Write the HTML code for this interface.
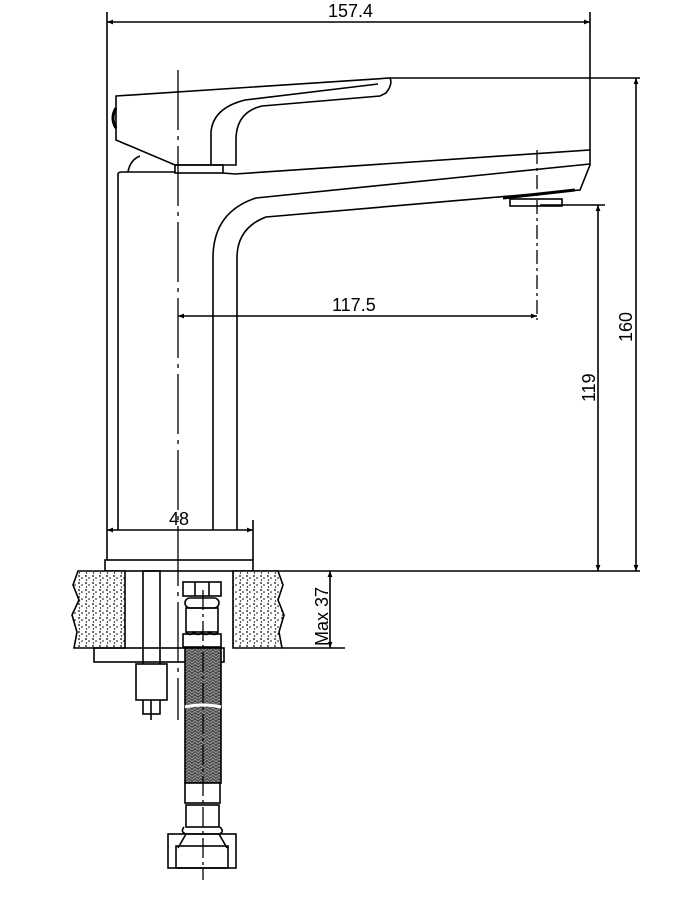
<!DOCTYPE html>
<html><head><meta charset="utf-8"><style>
html,body{margin:0;padding:0;background:#fff}
svg{display:block}
text{font-family:"Liberation Sans","DejaVu Sans",sans-serif;font-size:18px;fill:#000}
</style></head><body>
<svg width="700" height="900" viewBox="0 0 700 900" xmlns="http://www.w3.org/2000/svg">
<defs>
<pattern id="dots" width="7" height="7" patternUnits="userSpaceOnUse">
<rect width="7" height="7" fill="#fff"/>
<circle cx="2" cy="2" r="0.9" fill="#000"/><circle cx="5" cy="4" r="0.8" fill="#000"/><circle cx="2.5" cy="6" r="0.7" fill="#000"/>
</pattern>
<pattern id="braid" width="6" height="6" patternUnits="userSpaceOnUse">
<rect width="6" height="6" fill="#444"/>
<path d="M0 3 L3 0 L6 3 M0 6 L3 3 L6 6" stroke="#999" stroke-width="1" fill="none"/>
</pattern>
<marker id="a" viewBox="0 0 10 10" refX="10" refY="5" markerWidth="10" markerHeight="6" orient="auto-start-reverse" markerUnits="userSpaceOnUse"><path d="M0 1 L10 5 L0 9 z" fill="#000"/></marker>
</defs>
<g fill="none" stroke="#000" stroke-width="1.6">
<line x1="107" y1="12" x2="107" y2="560"/>
<line x1="590" y1="12" x2="590" y2="150"/>
<line x1="107" y1="22" x2="590" y2="22" marker-start="url(#a)" marker-end="url(#a)"/>
<path d="M116 96 L390 78 Q393 84 386 93 L380 96 L262 106 Q236 112 236 140 L236 165 L175 165 L116 140 Z"/>
<path d="M211 165 L211 132 Q213 108 245 100 L378 84"/>
<path d="M116 108 Q110 118 116 128" stroke-width="3"/>
<path d="M128 172 Q130 160 140 156"/>
<rect x="175" y="165" width="48" height="8"/>
<line x1="390" y1="78" x2="640" y2="78"/>
<path d="M118 530 L118 174 Q118 172 122 172 L175 172"/>
<path d="M223 173 L235 174 L590 150 L590 165 L580 190 L266 217 Q237 228 237 258 L237 530"/>
<path d="M590 164 L256 198 Q213 212 213 258 L213 530"/>
<rect x="510" y="199" width="52" height="7"/>
<path d="M503 198 L575 190" stroke-width="3"/>
<line x1="537" y1="150" x2="537" y2="320" stroke-dasharray="14,4,3,4" stroke-width="1.3"/>
<line x1="178" y1="70" x2="178" y2="720" stroke-dasharray="60,6,4,6" stroke-width="1.3"/>
<line x1="178" y1="316" x2="537" y2="316" marker-start="url(#a)" marker-end="url(#a)"/>
<line x1="540" y1="205" x2="605" y2="205"/>
<line x1="598" y1="205" x2="598" y2="571" marker-start="url(#a)" marker-end="url(#a)"/>
<line x1="636" y1="78" x2="636" y2="571" marker-start="url(#a)" marker-end="url(#a)"/>
<rect x="105" y="560" width="148" height="11"/>
<line x1="253" y1="520" x2="253" y2="560"/>
<line x1="107" y1="530" x2="253" y2="530" marker-start="url(#a)" marker-end="url(#a)"/>
<line x1="253" y1="571" x2="640" y2="571"/>
<path d="M125 571 L78 571 L73 585 L79 600 L72 615 L77 632 L74 648 L125 648 Z" fill="url(#dots)"/>
<path d="M233 571 L278 571 L283 585 L278 600 L284 615 L279 632 L282 648 L233 648 Z" fill="url(#dots)"/>
<line x1="282" y1="648" x2="345" y2="648"/>
<line x1="330" y1="571" x2="330" y2="648" marker-start="url(#a)" marker-end="url(#a)"/>
<rect x="94" y="648" width="130" height="14"/>
<rect x="143" y="571" width="17" height="143"/>
<rect x="136" y="664" width="31" height="36" fill="#fff"/>
<line x1="151" y1="700" x2="151" y2="720"/>
<rect x="183" y="582" width="38" height="14"/>
<line x1="195" y1="582" x2="195" y2="596"/><line x1="209" y1="582" x2="209" y2="596"/>
<rect x="185" y="598" width="34" height="10" rx="5"/>
<rect x="186" y="608" width="32" height="24"/>
<path d="M186 632 q4 5 8 0 q4 5 8 0 q4 5 8 0 q4 5 8 0"/>
<rect x="183" y="634" width="38" height="13"/>
<rect x="185" y="648" width="36" height="135" fill="url(#braid)"/>
<path d="M185 707 Q203 703 221 707" stroke="#fff" stroke-width="3"/>
<rect x="185" y="783" width="35" height="20" fill="#fff"/>
<rect x="186" y="805" width="33" height="22" fill="#fff"/>
<path d="M184 827 Q180 832 186 834 L219 834 Q225 832 220 827"/>
<rect x="168" y="834" width="68" height="34"/>
<rect x="176" y="846" width="52" height="22"/>
<path d="M186 834 L178 848 M219 834 L227 848"/>
<line x1="203" y1="590" x2="203" y2="880" stroke-dasharray="20,4,3,4" stroke-width="1.3"/>
</g>
<text x="328" y="17">157.4</text>
<text x="332" y="311">117.5</text>
<text x="169" y="525">48</text>
<text transform="translate(595,402) rotate(-90)">119</text>
<text transform="translate(632,342) rotate(-90)">160</text>
<text transform="translate(328,646) rotate(-90)">Max 37</text>
</svg>
</body></html>
